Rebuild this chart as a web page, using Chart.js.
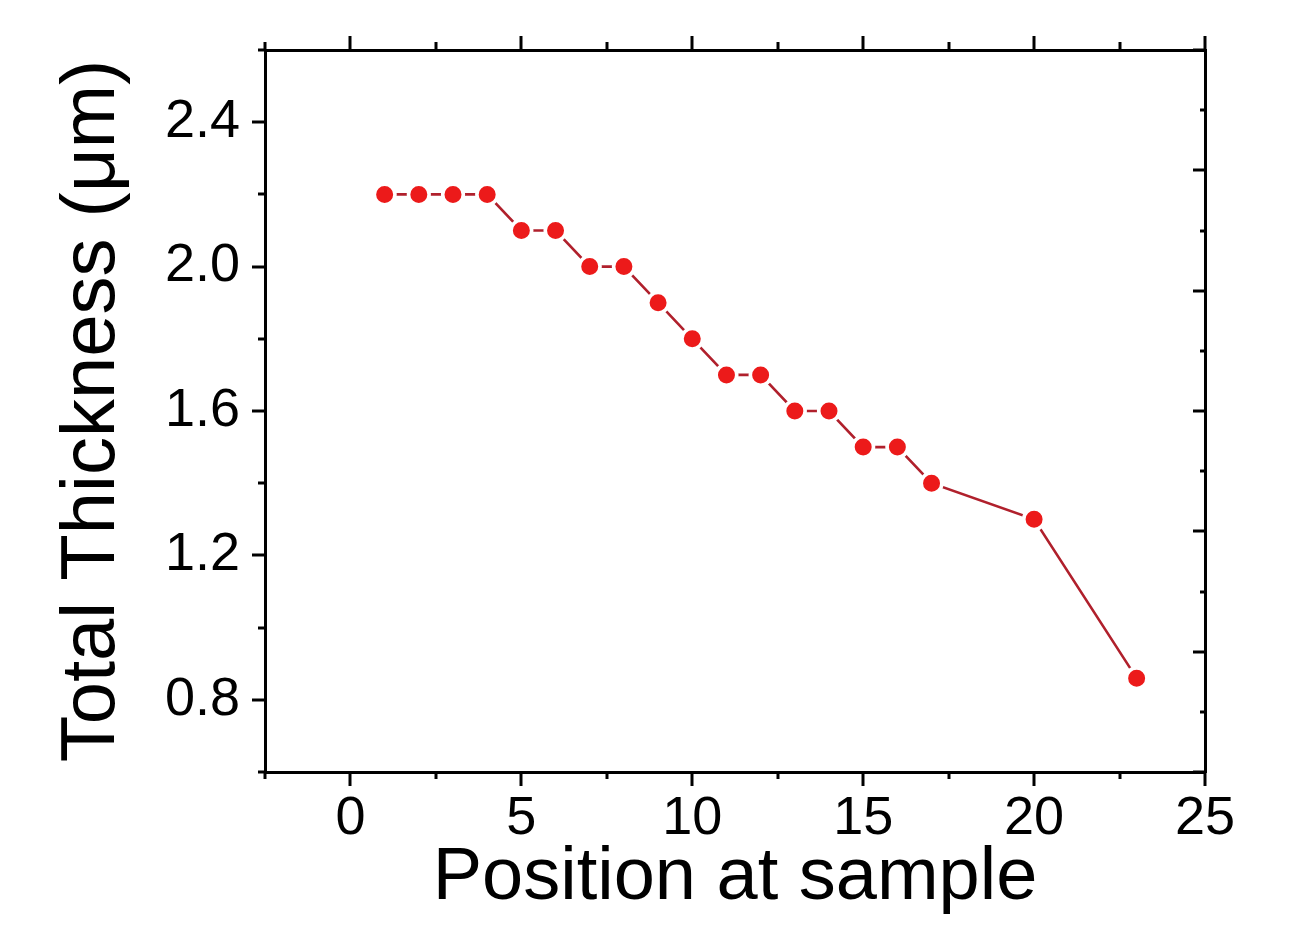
<!DOCTYPE html>
<html>
<head>
<meta charset="utf-8">
<script src="https://cdn.jsdelivr.net/npm/chart.js@4.4.1/dist/chart.umd.min.js"></script>
<style>
  html, body { margin: 0; padding: 0; background: #ffffff; }
  #wrap { width: 1295px; height: 935px; position: relative; }
</style>
</head>
<body>
<div id="wrap"><canvas id="c" width="1295" height="935"></canvas></div>
<script>
// ---- data ----
const positions = [1, 2, 3, 4, 5, 6, 7, 8, 9, 10, 11, 12, 13, 14, 15, 16, 17, 20, 23];
const thickness = [2.2, 2.2, 2.2, 2.2, 2.1, 2.1, 2.0, 2.0, 1.9, 1.8, 1.7, 1.7, 1.6, 1.6, 1.5, 1.5, 1.4, 1.3, 0.86];

// ---- axes / ticks ----
const xMajorTicks = [0, 5, 10, 15, 20, 25];
const xMinorTicks = [-2.5, 2.5, 7.5, 12.5, 17.5, 22.5];
const yMajorTicks = [0.8, 1.2, 1.6, 2.0, 2.4];
const yMinorTicks = [0.6, 1.0, 1.4, 1.8, 2.2, 2.6];
const rightMajorTicks = [0, 1, 2, 3, 4, 5, 6];
const rightMinorTicks = [0.5, 1.5, 2.5, 3.5, 4.5, 5.5];
const xLabel = 'Position at sample';
const yLabel = 'Total Thickness (\u03bcm)';

const FONT = "'Liberation Sans', Arial, Helvetica, sans-serif";

function noPad(sc) {
  sc.paddingTop = 0; sc.paddingBottom = 0; sc.paddingLeft = 0; sc.paddingRight = 0;
}

const tickMarks = {
  id: 'tickMarks',
  afterDraw(chart) {
    const ctx = chart.ctx;
    const s = chart.scales;
    const ca = chart.chartArea;
    ctx.save();
    ctx.strokeStyle = '#000';
    ctx.lineWidth = 3;
    ctx.lineCap = 'butt';
    function hTicks(scale, vals, len, y0, dir) {
      vals.forEach(v => {
        const x = Math.round(scale.getPixelForValue(v));
        ctx.beginPath();
        ctx.moveTo(x, y0);
        ctx.lineTo(x, y0 + dir * len);
        ctx.stroke();
      });
    }
    function vTicks(scale, vals, len, x0, dir) {
      vals.forEach(v => {
        const y = Math.round(scale.getPixelForValue(v));
        ctx.beginPath();
        ctx.moveTo(x0, y);
        ctx.lineTo(x0 + dir * len, y);
        ctx.stroke();
      });
    }
    hTicks(s.x, xMajorTicks, 14, ca.bottom, 1);
    hTicks(s.x, xMinorTicks, 7, ca.bottom, 1);
    hTicks(s.x2, xMajorTicks, 14, ca.top, -1);
    hTicks(s.x2, xMinorTicks, 8, ca.top, -1);
    vTicks(s.y, yMajorTicks, 13, ca.left, -1);
    vTicks(s.y, yMinorTicks, 7, ca.left, -1);
    vTicks(s.y2, rightMajorTicks, 12, ca.right, -1);
    vTicks(s.y2, rightMinorTicks, 5, ca.right, -1);
    ctx.restore();
  }
};

new Chart(document.getElementById('c'), {
  type: 'line',
  data: {
    datasets: [{
      data: positions.map((p, i) => ({ x: p, y: thickness[i] })),
      borderColor: '#b0202c',
      borderWidth: 2.6,
      pointRadius: 10.3,
      pointBackgroundColor: '#ec1a1a',
      pointBorderColor: '#ffffff',
      pointBorderWidth: 3.6,
      tension: 0,
      clip: false
    }]
  },
  options: {
    responsive: false,
    animation: false,
    events: [],
    layout: { padding: { left: 0, top: 50, right: 90, bottom: 0 } },
    plugins: { legend: { display: false }, tooltip: { enabled: false } },
    scales: {
      x: {
        type: 'linear', position: 'bottom', min: -2.5, max: 25,
        afterBuildTicks: sc => { sc.ticks = xMajorTicks.map(v => ({ value: v })); },
        afterFit: sc => { sc.height = 935 - 772; noPad(sc); },
        grid: { display: false, drawTicks: false },
        border: { display: true, color: '#000', width: 3 },
        ticks: { color: '#000', padding: 15, maxRotation: 0, autoSkip: false,
                 font: { family: FONT, size: 54 }, callback: v => String(v) },
        title: { display: true, text: xLabel, color: '#000',
                 font: { family: FONT, size: 74 }, padding: { top: 0, bottom: 12 } }
      },
      x2: {
        type: 'linear', position: 'top', min: -2.5, max: 25,
        afterFit: sc => { sc.height = 0; noPad(sc); },
        grid: { display: false, drawTicks: false },
        border: { display: true, color: '#000', width: 3 },
        ticks: { display: false }
      },
      y: {
        type: 'linear', position: 'left', min: 0.6, max: 2.6,
        afterBuildTicks: sc => { sc.ticks = yMajorTicks.map(v => ({ value: v })); },
        afterFit: sc => { sc.width = 265; noPad(sc); },
        grid: { display: false, drawTicks: false },
        border: { display: true, color: '#000', width: 3 },
        ticks: { color: '#000', padding: 25, autoSkip: false,
                 font: { family: FONT, size: 54 }, callback: v => v.toFixed(1) },
        title: { display: true, text: yLabel, color: '#000',
                 font: { family: FONT, size: 76 }, padding: { top: 47, bottom: 0 } }
      },
      y2: {
        type: 'linear', position: 'right', min: 0, max: 6,
        afterFit: sc => { sc.width = 0; noPad(sc); },
        grid: { display: false, drawTicks: false },
        border: { display: true, color: '#000', width: 3 },
        ticks: { display: false }
      }
    }
  },
  plugins: [tickMarks]
});
</script>
</body>
</html>
